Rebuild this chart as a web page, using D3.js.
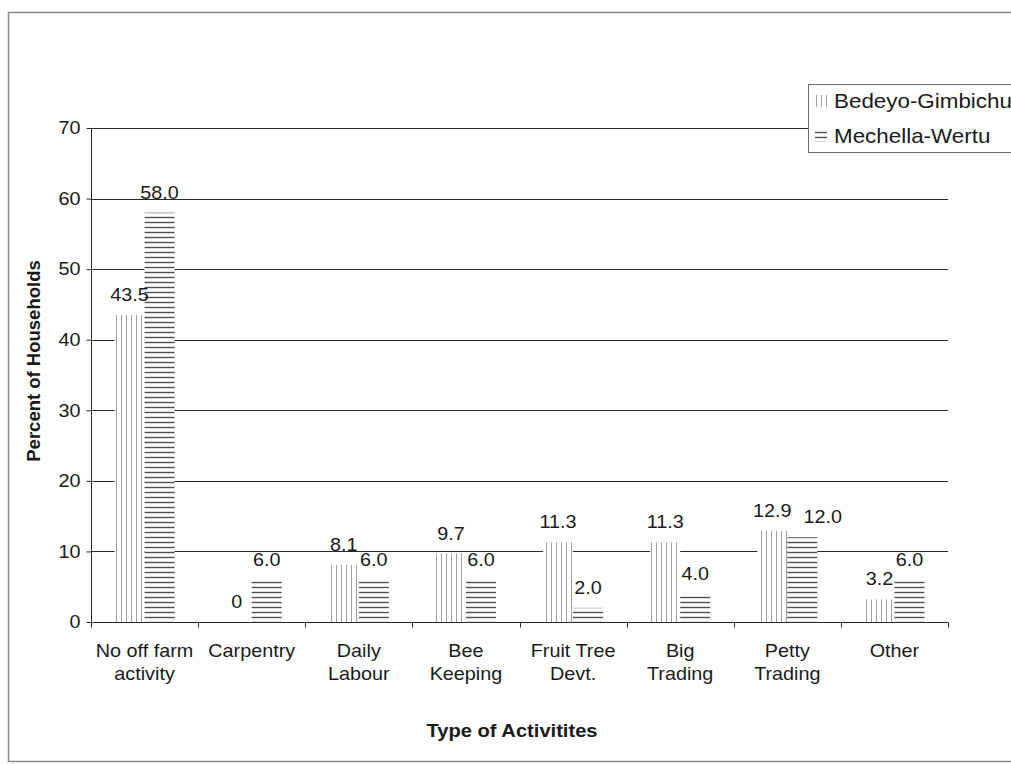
<!DOCTYPE html>
<html>
<head>
<meta charset="utf-8">
<script src="https://cdn.jsdelivr.net/npm/d3@7"></script>
<style>
  html, body { margin: 0; padding: 0; background: #fff; }
  svg { display: block; }
  text { font-family: "Liberation Sans", Arial, sans-serif; fill: #1a1a1a; }
</style>
</head>
<body>
<svg id="chart" width="1011" height="764"></svg>
<script>
// Off-farm activities of households, by site (percent)
const categories = [
  "No off farm\nactivity", "Carpentry", "Daily\nLabour", "Bee\nKeeping",
  "Fruit Tree\nDevt.", "Big\nTrading", "Petty\nTrading", "Other"
];
const seriesNames = ["Bedeyo-Gimbichu", "Mechella-Wertu"];
const bedeyoGimbichu = [43.5, 0, 8.1, 9.7, 11.3, 11.3, 12.9, 3.2];
const mechellaWertu = [58.0, 6.0, 6.0, 6.0, 2.0, 4.0, 12.0, 6.0];
const valueLabelsBedeyo = ["43.5", "0", "8.1", "9.7", "11.3", "11.3", "12.9", "3.2"];
const valueLabelsMechella = ["58.0", "6.0", "6.0", "6.0", "2.0", "4.0", "12.0", "6.0"];
const yTicks = [0, 10, 20, 30, 40, 50, 60, 70];

const svg = d3.select("#chart");
const SX = 1.1; // text is set slightly wide

// position a text node at (x, y) with a horizontal stretch
function place(sel, px, py, sx) {
  return sel.attr("transform", `translate(${px},${py}) scale(${sx},1)`);
}

// hatch fills: vertical light lines and horizontal dark lines
const defs = svg.append("defs");
const pv = defs.append("pattern").attr("id", "hatch-v")
  .attr("patternUnits", "userSpaceOnUse").attr("width", 5).attr("height", 5);
pv.append("rect").attr("width", 5).attr("height", 5).attr("fill", "#fff");
pv.append("line").attr("x1", 1.5).attr("x2", 1.5).attr("y1", 0).attr("y2", 5)
  .attr("stroke", "#a0a0a0").attr("stroke-width", 1);
const ph = defs.append("pattern").attr("id", "hatch-h")
  .attr("patternUnits", "userSpaceOnUse").attr("width", 5).attr("height", 5);
ph.append("rect").attr("width", 5).attr("height", 5).attr("fill", "#fff");
ph.append("line").attr("x1", 0).attr("x2", 5).attr("y1", 2.5).attr("y2", 2.5)
  .attr("stroke", "#505050").attr("stroke-width", 1.4);
const fills = ["url(#hatch-v)", "url(#hatch-h)"];

// outer frame
svg.append("rect")
  .attr("x", 8.5).attr("y", 12.5).attr("width", 1030).attr("height", 749)
  .attr("fill", "none").attr("stroke", "#8a8a8a").attr("stroke-width", 1.5);

const plot = { left: 91, right: 948, top: 128, bottom: 622 };

const x = d3.scaleBand().domain(categories).range([plot.left, plot.right])
  .paddingInner(0).paddingOuter(0);
const barW = 30;
const xs = d3.scaleBand().domain(seriesNames)
  .range([x.bandwidth() / 2 - barW, x.bandwidth() / 2 + barW]).padding(0);
const y = d3.scaleLinear().domain([0, 70]).range([plot.bottom, plot.top]);

// horizontal gridlines
svg.append("g").selectAll("line").data(yTicks.filter(d => d > 0)).join("line")
  .attr("x1", plot.left).attr("x2", plot.right)
  .attr("y1", d => Math.round(y(d)) + 0.5).attr("y2", d => Math.round(y(d)) + 0.5)
  .attr("stroke", "#2a2a2a").attr("stroke-width", 1);

// bars
const series = [bedeyoGimbichu, mechellaWertu];
const labels = [valueLabelsBedeyo, valueLabelsMechella];
const rows = [];
categories.forEach((c, i) => {
  seriesNames.forEach((s, k) => {
    rows.push({ cat: c, i, name: s, k, value: series[k][i], label: labels[k][i] });
  });
});

svg.append("g").selectAll("rect").data(rows).join("rect")
  .attr("x", d => x(d.cat) + xs(d.name))
  .attr("width", xs.bandwidth())
  .attr("y", d => y(d.value))
  .attr("height", d => y(0) - y(d.value))
  .attr("fill", d => fills[d.k]);

// value labels above each bar
const valueText = svg.append("g").selectAll("text").data(rows).join("text")
  .attr("text-anchor", "middle")
  .attr("font-size", 18)
  .text(d => d.label)
  .each(function (d) {
    d.lx = x(d.cat) + xs(d.name) + xs.bandwidth() / 2;
    d.ly = y(d.value) - 14;
    place(d3.select(this), d.lx, d.ly, SX);
  });

// push the second label of a pair to the right when the two collide
categories.forEach((c, i) => {
  const [a, b] = valueText.filter(d => d.i === i).nodes();
  const ba = a.getBoundingClientRect(), bb = b.getBoundingClientRect();
  const vOverlap = ba.bottom > bb.top && bb.bottom > ba.top;
  if (vOverlap && ba.right > bb.left) {
    const d = d3.select(b).datum();
    d.lx += ba.right + 12 - bb.left;
    place(d3.select(b), d.lx, d.ly, SX);
  }
});

// y axis
const yAxis = d3.axisLeft(y).tickValues(yTicks).tickSize(5).tickPadding(5)
  .tickFormat(d3.format("d"));
const gy = svg.append("g").attr("transform", `translate(${plot.left + 0.5},0)`).call(yAxis);
gy.select(".domain").attr("stroke", "#2a2a2a").attr("d", `M0,${plot.top}V${plot.bottom}`);
gy.selectAll(".tick line").attr("stroke", "#2a2a2a");
gy.selectAll(".tick text").attr("font-size", 18).attr("font-family", null)
  .attr("fill", "#1a1a1a").attr("transform", `scale(${SX},1)`);

// x axis: ticks on category boundaries
const gx = svg.append("g").attr("transform", `translate(0,${plot.bottom + 0.5})`);
gx.append("line").attr("x1", plot.left).attr("x2", plot.right)
  .attr("stroke", "#2a2a2a");
const bounds = categories.map(c => x(c)).concat([plot.right]);
gx.selectAll("line.tk").data(bounds).join("line").attr("class", "tk")
  .attr("x1", d => Math.round(d) + 0.5).attr("x2", d => Math.round(d) + 0.5)
  .attr("y1", 0).attr("y2", 5).attr("stroke", "#2a2a2a");

// category labels, one text per line
const catLines = [];
categories.forEach(c => c.split("\n").forEach((line, j) => catLines.push({ c, line, j })));
svg.append("g").selectAll("text").data(catLines).join("text")
  .attr("text-anchor", "middle")
  .attr("font-size", 18)
  .text(d => d.line)
  .each(function (d) {
    place(d3.select(this), x(d.c) + x.bandwidth() / 2, 657 + d.j * 23, SX);
  });

// axis titles
place(svg.append("text"), 512, 737, 1.06)
  .attr("text-anchor", "middle").attr("font-size", 19).attr("font-weight", "bold")
  .text("Type of Activitites");
svg.append("text").attr("transform", "translate(40,361) rotate(-90)")
  .attr("text-anchor", "middle").attr("font-size", 18.5).attr("font-weight", "bold")
  .text("Percent of Households");

// legend
const lg = svg.append("g");
lg.append("rect").attr("x", 808.5).attr("y", 84.5).attr("width", 240).attr("height", 68)
  .attr("fill", "#fff").attr("stroke", "#6a6a6a").attr("stroke-width", 1);
seriesNames.forEach((s, k) => {
  const cy = 101 + k * 35;
  lg.append("rect").attr("x", 815).attr("y", cy - 6).attr("width", 12).attr("height", 12)
    .attr("fill", fills[k]);
  place(lg.append("text"), 834, cy + 7, 1.12).attr("font-size", 20).text(s);
});
</script>
</body>
</html>
